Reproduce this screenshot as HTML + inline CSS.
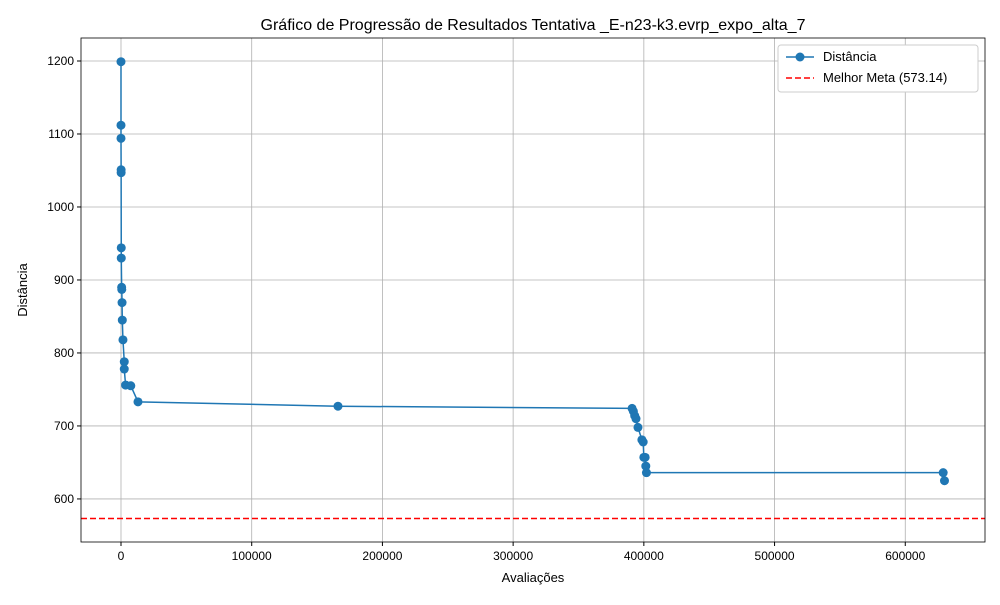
<!DOCTYPE html>
<html><head><meta charset="utf-8"><style>
body{margin:0;background:#fff;font-family:"Liberation Sans","DejaVu Sans",sans-serif}
</style></head><body>
<svg id="c" width="1000" height="600" xmlns="http://www.w3.org/2000/svg"></svg>
<script>
const evals=[0,0,0,100,100,200,200,500,600,800,1000,1500,2500,2500,3500,7500,13000,166000,391000,392000,393000,394000,395500,398500,399500,400000,401000,401500,402000,629000,630000];
const dists=[1199,1112,1094,1051,1047,944,930,890,887,869,845,818,788,778,756,755,733,727,724,720,714,710,698,681,678,657,657,645,636,636,625];
const xTicks=[0,100000,200000,300000,400000,500000,600000];
const yTicks=[600,700,800,900,1000,1100,1200];
const goal=573.14;
const L=81,R=985,T=38,B=542,x0=-30600,x1=661000,y0=541,y1=1231.5;
const X=v=>L+(v-x0)/(x1-x0)*(R-L), Y=v=>B-(v-y0)/(y1-y0)*(B-T);
const s=document.getElementById('c');const NS='http://www.w3.org/2000/svg';
function el(t,a,txt){const e=document.createElementNS(NS,t);for(const k in a)e.setAttribute(k,a[k]);if(txt!==undefined)e.textContent=txt;s.appendChild(e);return e;}
xTicks.forEach(v=>{const g=el('line',{x1:X(v),x2:X(v),y1:T,y2:B,stroke:'#b0b0b0','stroke-width':0.8});
el('line',{x1:X(v),x2:X(v),y1:B,y2:B+4,stroke:'#000'});
const t=el('text',{x:X(v),y:B+18,'font-size':12,'text-anchor':'middle'},String(v));});
yTicks.forEach(v=>{const g=el('line',{x1:L,x2:R,y1:Y(v),y2:Y(v),stroke:'#b0b0b0','stroke-width':0.8});
el('line',{x1:L-4,x2:L,y1:Y(v),y2:Y(v),stroke:'#000'});
const t=el('text',{x:L-7,y:Y(v)+4,'font-size':12,'text-anchor':'end'},String(v));});
const gl=el('line',{x1:L,x2:R,y1:Y(goal),y2:Y(goal),stroke:'#ff0000','stroke-width':1.5,'stroke-dasharray':'6,3'});

const ln=el('polyline',{points:evals.map((v,i)=>X(v)+','+Y(dists[i])).join(' '),fill:'none',stroke:'#1f77b4','stroke-width':1.5});

evals.forEach((v,i)=>{const c=el('circle',{cx:X(v),cy:Y(dists[i]),r:4.5,fill:'#1f77b4'});});
const fr=el('rect',{x:L,y:T,width:R-L,height:B-T,fill:'none',stroke:'#000','stroke-width':0.8});
const ti=el('text',{x:533,y:30,'font-size':16,'text-anchor':'middle'},'Gráfico de Progressão de Resultados Tentativa _E-n23-k3.evrp_expo_alta_7');
const xt=el('text',{x:533,y:582,'font-size':13,'text-anchor':'middle'},'Avaliações');
const yt=el('text',{x:27,y:290,'font-size':13,'text-anchor':'middle',transform:'rotate(-90 27 290)'},'Distância');
const lg=el('rect',{x:778,y:45,width:200,height:47,fill:'#fff',stroke:'#ccc',rx:3});
el('line',{x1:786,x2:814,y1:57,y2:57,stroke:'#1f77b4','stroke-width':1.5});el('circle',{cx:800,cy:57,r:4.5,fill:'#1f77b4'});
const l1=el('text',{x:823,y:61,'font-size':13},'Distância');
el('line',{x1:786,x2:814,y1:78,y2:78,stroke:'#ff0000','stroke-width':1.5,'stroke-dasharray':'6,3'});
const l2=el('text',{x:823,y:82,'font-size':13},'Melhor Meta ('+goal.toFixed(2)+')');
</script></body></html>
